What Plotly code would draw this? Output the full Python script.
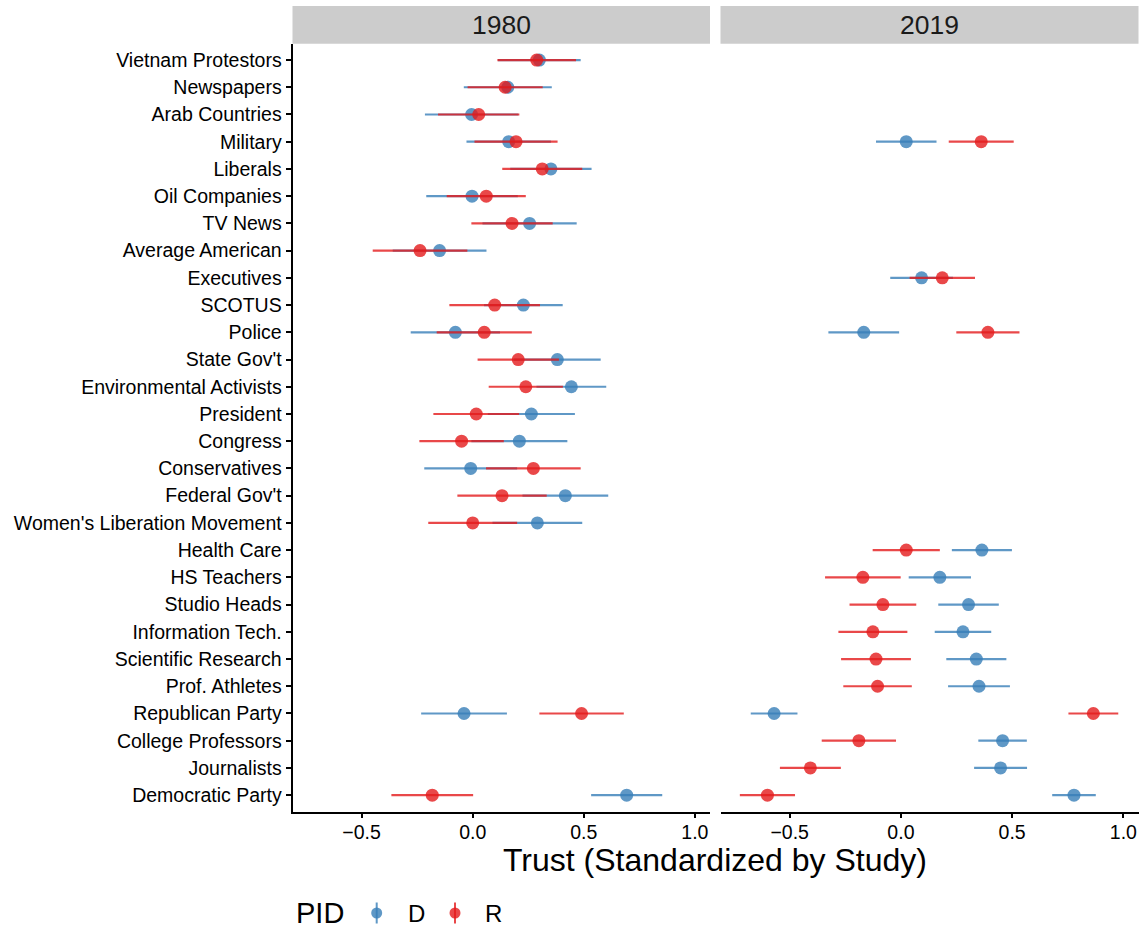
import plotly.graph_objects as go

# Institutions, top to bottom
institutions = [
    "Vietnam Protestors", "Newspapers", "Arab Countries", "Military", "Liberals",
    "Oil Companies", "TV News", "Average American", "Executives", "SCOTUS",
    "Police", "State Gov't", "Environmental Activists", "President", "Congress",
    "Conservatives", "Federal Gov't", "Women's Liberation Movement", "Health Care",
    "HS Teachers", "Studio Heads", "Information Tech.", "Scientific Research",
    "Prof. Athletes", "Republican Party", "College Professors", "Journalists",
    "Democratic Party",
]

# 1980 study
inst_1980 = [
    "Vietnam Protestors", "Newspapers", "Arab Countries", "Military", "Liberals",
    "Oil Companies", "TV News", "Average American", "SCOTUS", "Police",
    "State Gov't", "Environmental Activists", "President", "Congress",
    "Conservatives", "Federal Gov't", "Women's Liberation Movement",
    "Republican Party", "Democratic Party",
]
est_1980_D = [0.300, 0.158, -0.005, 0.162, 0.352, -0.003, 0.256, -0.149, 0.228, -0.078,
              0.381, 0.444, 0.264, 0.210, -0.009, 0.417, 0.291, -0.039, 0.693]
ci_1980_D = [0.186, 0.198, 0.210, 0.190, 0.183, 0.206, 0.212, 0.211, 0.177, 0.201,
             0.195, 0.157, 0.196, 0.216, 0.209, 0.193, 0.202, 0.193, 0.160]
est_1980_R = [0.288, 0.146, 0.027, 0.195, 0.313, 0.061, 0.177, -0.237, 0.099, 0.052,
              0.205, 0.239, 0.016, -0.050, 0.273, 0.132, 0.000, 0.490, -0.182]
ci_1980_R = [0.177, 0.169, 0.183, 0.187, 0.180, 0.178, 0.183, 0.213, 0.204, 0.214,
             0.183, 0.167, 0.193, 0.190, 0.213, 0.201, 0.200, 0.190, 0.184]

# 2019 study
inst_2019 = [
    "Military", "Executives", "Police", "Health Care", "HS Teachers", "Studio Heads",
    "Information Tech.", "Scientific Research", "Prof. Athletes", "Republican Party",
    "College Professors", "Journalists", "Democratic Party",
]
est_2019_D = [0.024, 0.093, -0.167, 0.364, 0.175, 0.304, 0.279, 0.339, 0.351, -0.570,
              0.457, 0.448, 0.778]
ci_2019_D = [0.136, 0.141, 0.159, 0.135, 0.140, 0.136, 0.127, 0.135, 0.139, 0.105,
             0.109, 0.119, 0.098]
est_2019_R = [0.361, 0.186, 0.391, 0.024, -0.171, -0.081, -0.126, -0.112, -0.105, 0.865,
              -0.189, -0.407, -0.600]
ci_2019_R = [0.146, 0.147, 0.142, 0.151, 0.170, 0.150, 0.155, 0.157, 0.154, 0.112,
             0.167, 0.137, 0.124]

panels = ["1980", "2019"]
x_ticks = [-0.5, 0.0, 0.5, 1.0]
x_range = [-0.811, 1.068]

W, H = 1143, 933
FONT = "Liberation Sans, Arial, Helvetica, sans-serif"
BLUE = "rgba(55,126,184,0.8)"
RED = "rgba(228,26,28,0.8)"


def fx(px):
    return px / W


def fy(py):
    return 1 - py / H


fig = go.Figure()


def add_series(x, ci, y, color, xa, ya):
    fig.add_trace(go.Scatter(
        x=x, y=y, mode="markers", xaxis=xa, yaxis=ya, showlegend=False,
        marker=dict(size=13, color=color, line=dict(width=0)),
        error_x=dict(type="data", array=ci, symmetric=True, color=color,
                     thickness=2.2, width=0),
    ))


add_series(est_1980_D, ci_1980_D, inst_1980, BLUE, "x", "y")
add_series(est_1980_R, ci_1980_R, inst_1980, RED, "x", "y")
add_series(est_2019_D, ci_2019_D, inst_2019, BLUE, "x2", "y2")
add_series(est_2019_R, ci_2019_R, inst_2019, RED, "x2", "y2")

y_dom = [fy(811.5), fy(43.7)]
n = len(institutions)
axis_common = dict(showgrid=False, zeroline=False, showline=True, linecolor="black",
                   linewidth=1.8, ticks="outside", ticklen=5, tickwidth=1.8,
                   tickcolor="black", automargin=False,
                   tickfont=dict(family=FONT, size=19.5, color="black"))

fig.update_layout(
    width=W, height=H,
    margin=dict(l=0, r=0, t=0, b=0),
    paper_bgcolor="white", plot_bgcolor="white",
    font=dict(family=FONT, color="black"),
    xaxis=dict(domain=[fx(292.5), fx(710)], range=x_range, tickvals=x_ticks,
               tickformat=".1f", anchor="y", ticklabelstandoff=-3, **axis_common),
    xaxis2=dict(domain=[fx(720.5), fx(1138.5)], range=x_range, tickvals=x_ticks,
                tickformat=".1f", anchor="y2", ticklabelstandoff=-3, **axis_common),
    yaxis=dict(domain=y_dom, type="category", categoryorder="array",
               categoryarray=institutions, range=[n - 0.4, -0.6], anchor="x",
               **axis_common),
    yaxis2=dict(domain=y_dom, type="category", categoryorder="array",
                categoryarray=institutions, range=[n - 0.4, -0.6], anchor="x2",
                matches="y", showgrid=False, zeroline=False, showline=False,
                ticks="", showticklabels=False),
)

# facet strips
strip_x = [(292.5, 710), (720.5, 1138.5)]
for (a, b), label in zip(strip_x, panels):
    fig.add_shape(type="rect", xref="paper", yref="paper", x0=fx(a), x1=fx(b),
                  y0=fy(43.7), y1=fy(6), fillcolor="#CCCCCC", line=dict(width=0),
                  layer="below")
    fig.add_annotation(text=label, xref="paper", yref="paper", x=fx((a + b) / 2),
                       y=fy(25), xanchor="center", yanchor="middle", showarrow=False,
                       font=dict(family=FONT, size=26.5, color="#1A1A1A"))

# shared x-axis title
fig.add_annotation(text="Trust (Standardized by Study)", xref="paper", yref="paper",
                   x=fx(715), y=fy(860), xanchor="center", yanchor="middle",
                   showarrow=False, font=dict(family=FONT, size=32, color="black"))

# legend: title, point-range keys and labels
leg_y = 913
fig.add_annotation(text="PID", xref="paper", yref="paper", x=fx(294), y=fy(leg_y),
                   xanchor="left", yanchor="middle", showarrow=False,
                   font=dict(family=FONT, size=29, color="black"))
for kx, tx, col, lab in [(376.7, 416, BLUE, "D"), (455, 493, RED, "R")]:
    fig.add_shape(type="line", xref="paper", yref="paper", x0=fx(kx), x1=fx(kx),
                  y0=fy(leg_y - 10.5), y1=fy(leg_y + 10.5), line=dict(color=col, width=2))
    fig.add_shape(type="circle", xref="paper", yref="paper", xsizemode="pixel",
                  ysizemode="pixel", xanchor=fx(kx), yanchor=fy(leg_y),
                  x0=-5.5, x1=5.5, y0=-5.5, y1=5.5, fillcolor=col, line=dict(width=0))
    fig.add_annotation(text=lab, xref="paper", yref="paper", x=fx(tx), y=fy(leg_y),
                       xanchor="center", yanchor="middle", showarrow=False,
                       font=dict(family=FONT, size=24, color="black"))

fig.write_html("out.html")
